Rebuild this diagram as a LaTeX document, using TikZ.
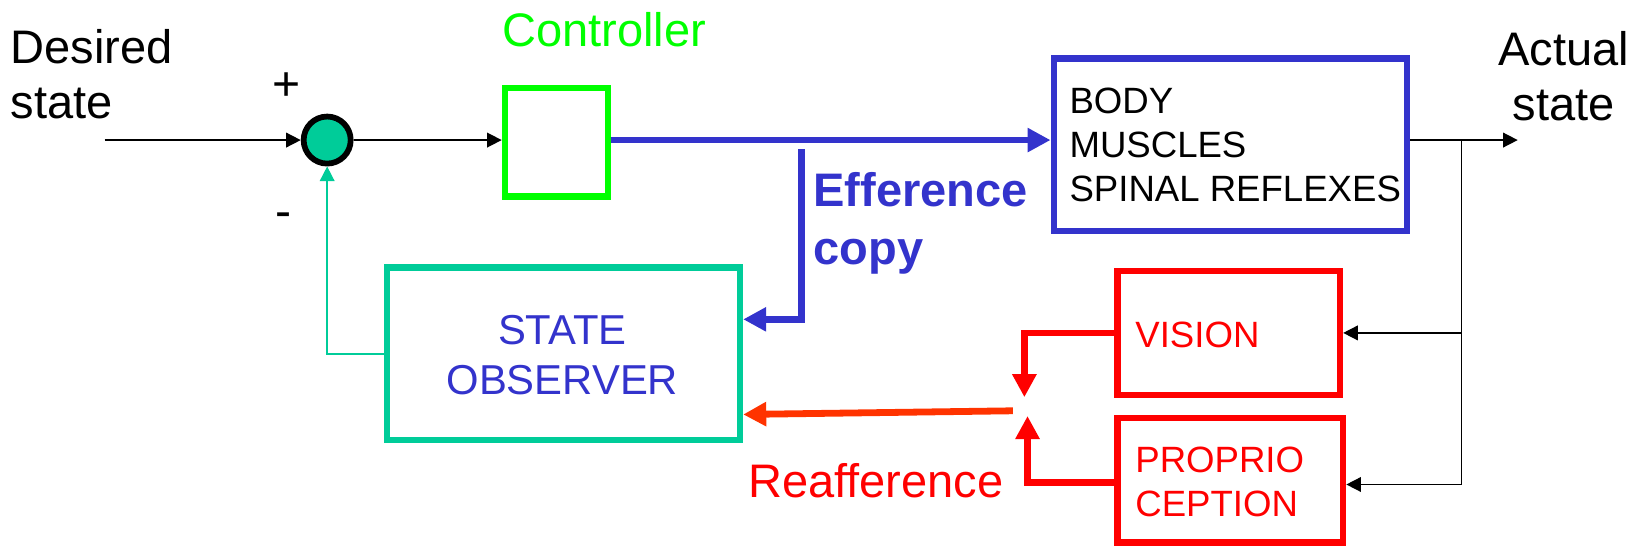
\documentclass[tikz,border=0pt]{standalone}
\usepackage{fontspec}
\setmainfont{Liberation Sans}
\usetikzlibrary{arrows.meta}
\definecolor{cgreen}{RGB}{0,255,0}
\definecolor{cblue}{RGB}{51,51,204}
\definecolor{cteal}{RGB}{0,204,153}
\definecolor{cred}{RGB}{255,0,0}
\definecolor{corange}{RGB}{255,51,0}
\begin{document}
\begin{tikzpicture}[x=1pt,y=-1pt,
  blockbox/.style={draw, line width=6pt, inner sep=0pt},
  thinarrow/.style={-{Triangle[length=14pt,width=14pt]}, line width=1.5pt},
  thickarrow/.style={-{Triangle[length=22pt,width=22pt]}, line width=6.5pt},
  big/.style={inner sep=0pt, font=\fontsize{45}{53}\selectfont},
  mid/.style={inner sep=0pt, font=\fontsize{35}{42}\selectfont},
]
\useasboundingbox[fill=white] (0,0) rectangle (1568,524);

% blocks
\node[circle, draw=black, line width=5.5pt, fill=cteal, minimum size=45pt, inner sep=0pt] (sum) at (313,134) {};
\node[blockbox, draw=cgreen, minimum width=99pt, minimum height=104pt] (ctrl) at (532.5,136) {};
\node[blockbox, draw=cblue, minimum width=338pt, minimum height=165pt] (body) at (1177,138.5) {};
\node[blockbox, draw=cteal, minimum width=338pt, minimum height=165pt] (obs) at (539,338.5) {};
\node[blockbox, draw=cred, minimum width=213pt, minimum height=119pt] (vision) at (1175.5,318.5) {};
\node[blockbox, draw=cred, minimum width=216pt, minimum height=119pt] (prop) at (1177,459.5) {};

% texts
\node[big, align=left, anchor=west] (desired) at (10,71) {Desired\\state};
\node[big, align=center] (actual) at (1496,73) {Actual\\state};
\node[big, text=cgreen] (ctrltext) at (578,28) {Controller};
\node[inner sep=0pt, font=\fontsize{46}{52}\selectfont] (plus) at (274,83) {+};
\node[inner sep=0pt, font=\fontsize{46}{52}\selectfont] (minus) at (271,211) {-};
\node[mid, align=left, anchor=west] (bodytext) at (1023,139) {BODY\\MUSCLES\\SPINAL REFLEXES};
\node[inner sep=0pt, font=\fontsize{40}{48}\selectfont, text=cblue, align=center] (obstext) at (538,340) {STATE\\OBSERVER};
\node[mid, text=cred, anchor=west] (vistext) at (1086,320) {VISION};
\node[mid, text=cred, align=left, anchor=west] (proptext) at (1086,461) {PROPRIO\\CEPTION};
\node[big, text=cblue, font=\fontsize{45}{55}\selectfont\bfseries, align=left, anchor=north west] (efftext) at (778,165) {Efference\\copy};
\node[big, text=cred] (reaftext) at (838,460) {Reafference};

% coordinates
\coordinate (input) at (100,134);
\coordinate (out) at (1452,134);
\coordinate (br) at (1398,134);
\coordinate (eff) at (767,143);
\coordinate (vtip) at (980,380);
\coordinate (ptip) at (983,398);
\coordinate (rstart) at (969,393);

% connectors
\draw[thinarrow] (input) -- (sum.west);
\draw[thinarrow] (sum.east) -- (sum.east -| ctrl.west);
\draw[thickarrow, cblue] (ctrl.east |- sum) -- (body.west |- sum);
\draw[thinarrow] (body.east |- sum) -- (out);
\draw[thinarrow] (br) |- (vision.east);
\draw[thinarrow] (br) |- ([yshift=-4pt]prop.east);
\draw[thickarrow, cblue] (eff) |- ([yshift=33pt]obs.east);
\draw[thinarrow, cteal] (obs.west) -| (sum.south);
\draw[thickarrow, cred] (vision.west) -| (vtip);
\draw[thickarrow, cred] ([yshift=-2pt]prop.west) -| (ptip);
\draw[thickarrow, corange] (rstart) -- ([yshift=-58pt]obs.east);
\end{tikzpicture}
\end{document}
